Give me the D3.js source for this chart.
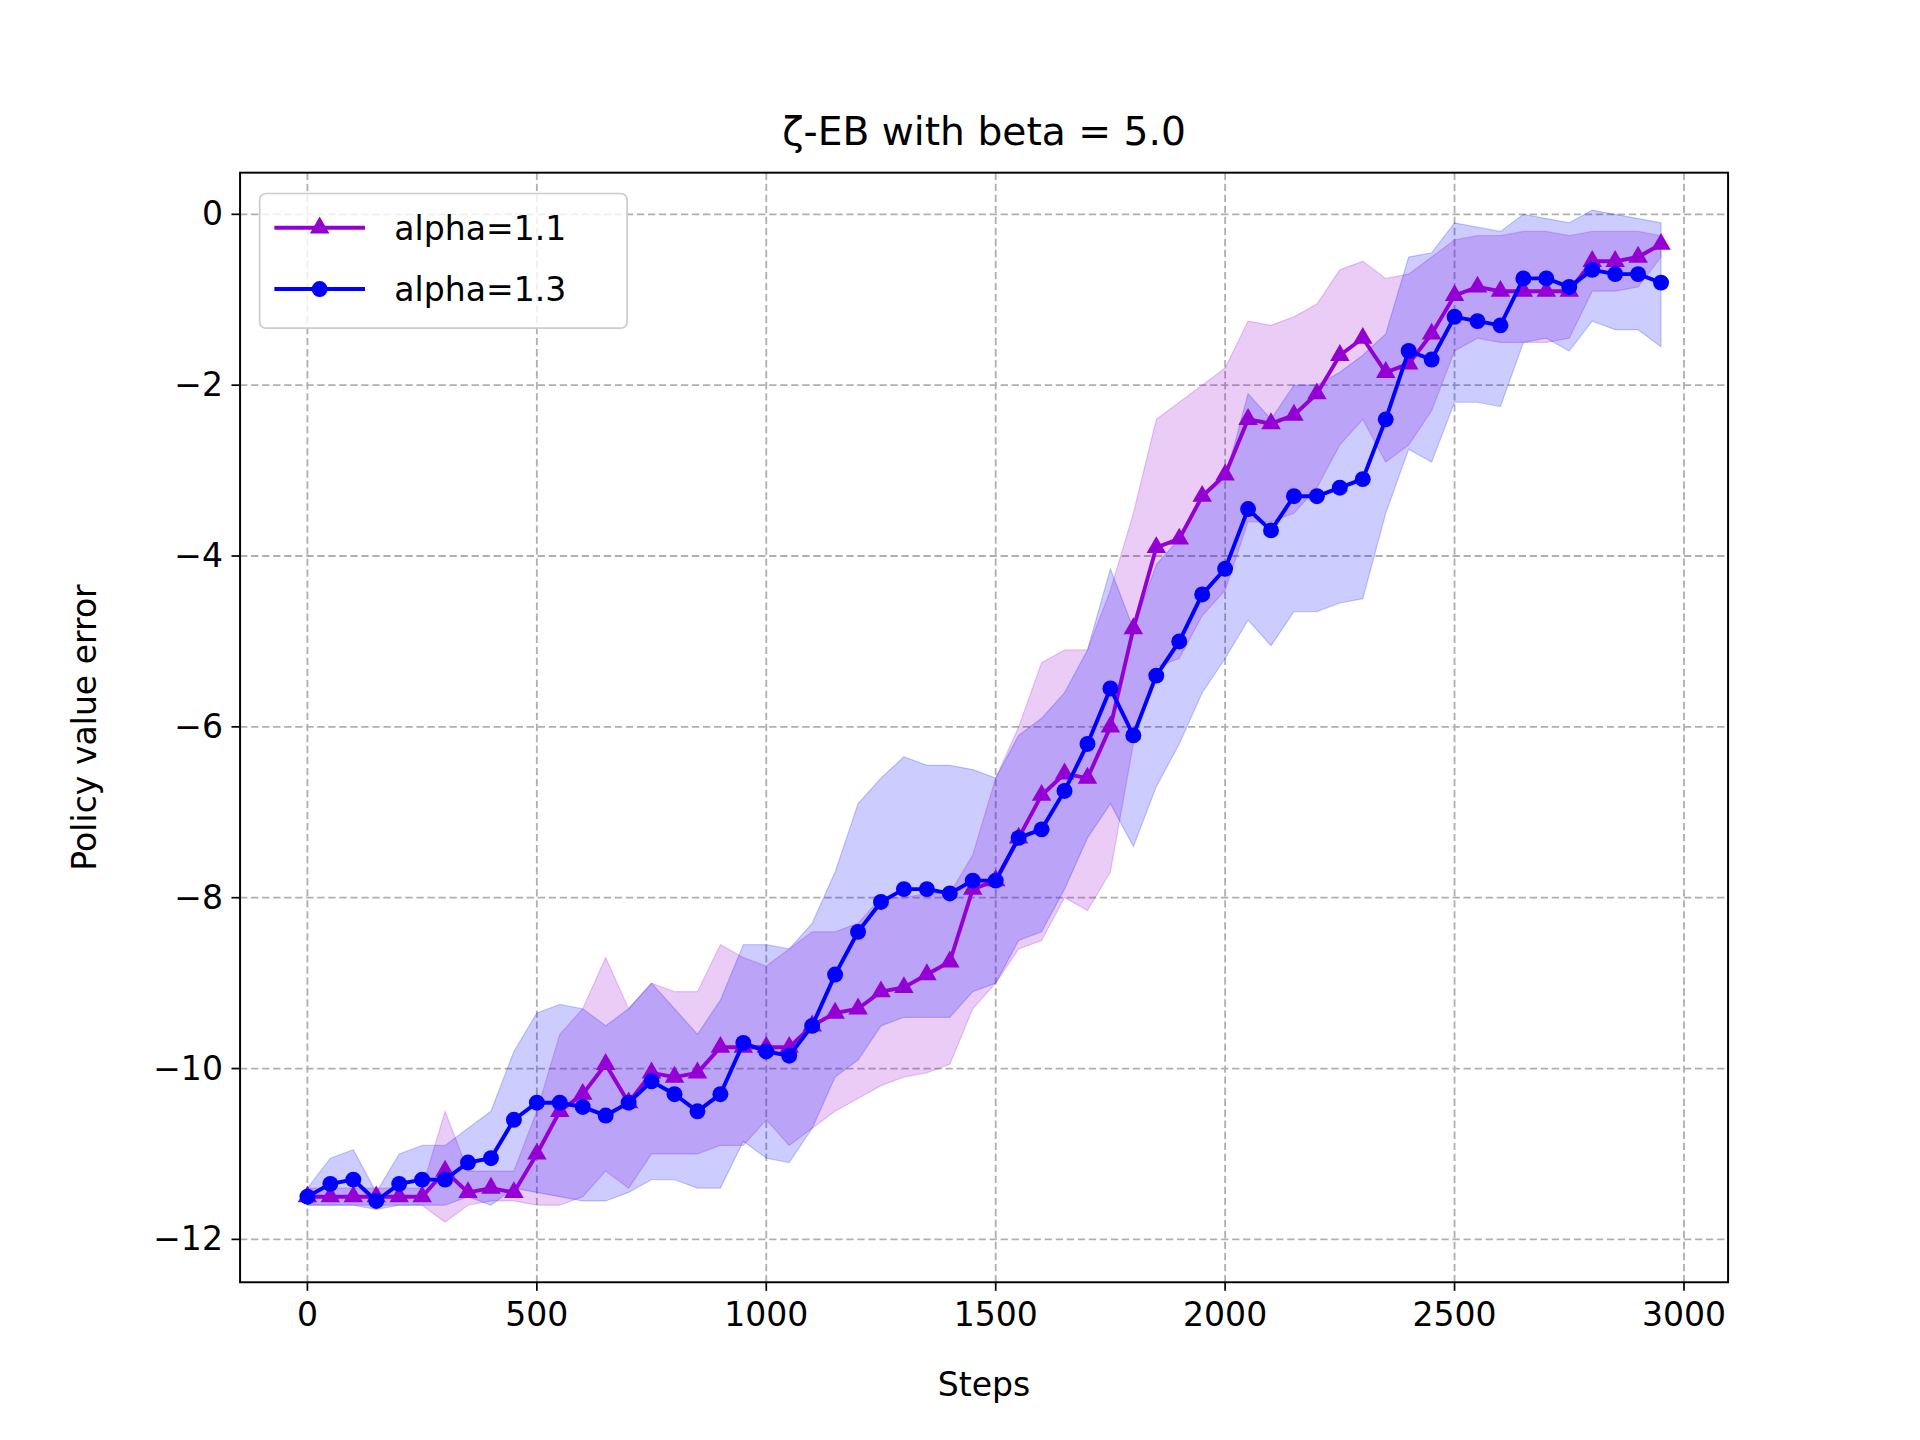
<!DOCTYPE html>
<html><head><meta charset="utf-8">
<script src="https://cdn.jsdelivr.net/npm/d3@7"></script>
<style>body{margin:0;background:#fff}text{font-family:"DejaVu Sans",sans-serif}</style>
</head><body>
<svg id="chart" width="1920" height="1440" viewBox="0 0 1567.7 1175.8"></svg>
<script>
var steps = d3.range(0, 3000, 50);
var a11 = [-11.5,-11.5,-11.5,-11.5,-11.5,-11.5,-11.2,-11.45,-11.4,-11.45,-11.0,-10.5,-10.3,-9.95,-10.4,-10.05,-10.1,-10.05,-9.75,-9.75,-9.75,-9.75,-9.5,-9.35,-9.3,-9.1,-9.05,-8.9,-8.75,-7.9,-7.8,-7.3,-6.8,-6.55,-6.6,-6.0,-4.85,-3.9,-3.8,-3.3,-3.05,-2.4,-2.45,-2.35,-2.1,-1.65,-1.45,-1.85,-1.75,-1.4,-0.95,-0.85,-0.9,-0.9,-0.9,-0.9,-0.55,-0.55,-0.5,-0.35];
var a11Hi = [-11.4,-11.4,-11.4,-11.4,-11.4,-11.4,-10.5,-11.2,-11.2,-11.2,-10.5,-9.6,-9.3,-8.7,-9.3,-9.0,-9.1,-9.1,-8.55,-8.7,-8.8,-8.6,-8.4,-8.4,-8.3,-8.0,-8.0,-7.95,-7.95,-7.5,-6.6,-6.0,-5.25,-5.1,-5.1,-4.4,-3.5,-2.4,-2.2,-2.0,-1.8,-1.25,-1.3,-1.2,-1.05,-0.65,-0.55,-0.75,-0.7,-0.5,-0.3,-0.25,-0.25,-0.2,-0.2,-0.25,-0.2,-0.2,-0.2,-0.25];
var a11Lo = [-11.6,-11.6,-11.6,-11.6,-11.6,-11.6,-11.8,-11.6,-11.55,-11.55,-11.6,-11.6,-11.5,-11.2,-11.4,-11.0,-11.0,-11.0,-10.9,-10.9,-10.6,-10.9,-10.7,-10.5,-10.35,-10.2,-10.1,-10.05,-9.95,-9.3,-9.0,-8.6,-8.5,-8.0,-8.15,-7.7,-6.2,-5.3,-5.2,-4.7,-4.4,-3.6,-3.6,-3.5,-3.2,-2.7,-2.4,-2.9,-2.7,-2.3,-1.6,-1.45,-1.5,-1.5,-1.5,-1.45,-0.9,-0.9,-0.85,-0.5];
var a13 = [-11.5,-11.35,-11.3,-11.55,-11.35,-11.3,-11.3,-11.1,-11.05,-10.6,-10.4,-10.4,-10.45,-10.55,-10.4,-10.15,-10.3,-10.5,-10.3,-9.7,-9.8,-9.85,-9.5,-8.9,-8.4,-8.05,-7.9,-7.9,-7.95,-7.8,-7.8,-7.3,-7.2,-6.75,-6.2,-5.55,-6.1,-5.4,-5.0,-4.45,-4.15,-3.45,-3.7,-3.3,-3.3,-3.2,-3.1,-2.4,-1.6,-1.7,-1.2,-1.25,-1.3,-0.75,-0.75,-0.85,-0.65,-0.7,-0.7,-0.8];
var a13Hi = [-11.4,-11.05,-10.95,-11.45,-11.0,-10.9,-10.9,-10.7,-10.5,-9.8,-9.35,-9.25,-9.3,-9.5,-9.3,-9.0,-9.3,-9.6,-9.2,-8.55,-8.55,-8.6,-8.3,-7.7,-6.9,-6.6,-6.35,-6.45,-6.45,-6.5,-6.6,-6.1,-5.9,-5.6,-5.1,-4.15,-4.85,-4.1,-3.8,-3.3,-3.1,-2.1,-2.4,-2.0,-2.0,-1.85,-1.65,-1.4,-0.5,-0.45,-0.1,-0.15,-0.2,0,-0.05,-0.1,0.05,0,-0.05,-0.1];
var a13Lo = [-11.6,-11.6,-11.6,-11.65,-11.6,-11.6,-11.6,-11.5,-11.6,-11.4,-11.45,-11.5,-11.55,-11.55,-11.45,-11.3,-11.3,-11.4,-11.4,-10.85,-11.05,-11.1,-10.7,-10.1,-9.9,-9.5,-9.4,-9.4,-9.4,-9.1,-9.0,-8.5,-8.4,-7.9,-7.3,-6.9,-7.4,-6.7,-6.2,-5.6,-5.2,-4.75,-5.05,-4.65,-4.65,-4.55,-4.5,-3.5,-2.75,-2.9,-2.2,-2.2,-2.25,-1.5,-1.45,-1.6,-1.25,-1.35,-1.35,-1.55];
var xTicks = [0,500,1000,1500,2000,2500,3000];
var yTicks = [0,-2,-4,-6,-8,-10,-12];

var svg = d3.select("#chart");
var L = 196, R = 1411, T = 141, B = 1047;
var x = d3.scaleLinear().domain([0, 3000]).range([251, 1375]);
var y = d3.scaleLinear().domain([-12, 0]).range([1012, 175]);

// grid
var g = svg.append("g");
xTicks.forEach(function (t) {
    g.append("line").attr("x1", x(t)).attr("x2", x(t)).attr("y1", T).attr("y2", B)
        .attr("stroke", "#b0b0b0").attr("stroke-width", 1.5).attr("stroke-dasharray", "6,3");
});
yTicks.forEach(function (t) {
    g.append("line").attr("x1", L).attr("x2", R).attr("y1", y(t)).attr("y2", y(t))
        .attr("stroke", "#b0b0b0").attr("stroke-width", 1.5).attr("stroke-dasharray", "6,3");
});

var series = [
    { name: "alpha=1.1", v: a11, lo: a11Lo, hi: a11Hi, color: "#9400d3", marker: "triangle" },
    { name: "alpha=1.3", v: a13, lo: a13Lo, hi: a13Hi, color: "#0000ff", marker: "circle" }
];
var area = d3.area().x(function (d) { return x(d.s); }).y0(function (d) { return y(d.lo); }).y1(function (d) { return y(d.hi); });
var line = d3.line().x(function (d) { return x(d.s); }).y(function (d) { return y(d.v); });

series.forEach(function (s) {
    var pts = steps.map(function (st, i) { return { s: st, v: s.v[i], lo: s.lo[i], hi: s.hi[i] }; });
    svg.append("path").attr("d", area(pts)).attr("fill", s.color).attr("fill-opacity", 0.2)
        .attr("stroke", s.color).attr("stroke-opacity", 0.2);
});
function marker(sel, s, cx, cy) {
    if (s.marker === "circle") {
        sel.append("circle").attr("cx", cx).attr("cy", cy).attr("r", 6.5).attr("fill", s.color);
    } else {
        sel.append("path").attr("d", d3.symbol().type(d3.symbolTriangle).size(110)())
            .attr("transform", "translate(" + cx + "," + cy + ")").attr("fill", s.color);
    }
}
series.forEach(function (s) {
    var pts = steps.map(function (st, i) { return { s: st, v: s.v[i] }; });
    svg.append("path").attr("d", line(pts)).attr("fill", "none").attr("stroke", s.color).attr("stroke-width", 3.2);
    var mg = svg.append("g");
    pts.forEach(function (p) { marker(mg, s, x(p.s), y(p.v)); });
});

// frame & axes
svg.append("rect").attr("x", L).attr("y", T).attr("width", R - L).attr("height", B - T)
    .attr("fill", "none").attr("stroke", "#000").attr("stroke-width", 1.6);
xTicks.forEach(function (t) {
    svg.append("line").attr("x1", x(t)).attr("x2", x(t)).attr("y1", B).attr("y2", B + 7).attr("stroke", "#000").attr("stroke-width", 1.4);
    svg.append("text").attr("x", x(t)).attr("y", B + 36).attr("text-anchor", "middle").attr("font-size", 27).text(t);
});
yTicks.forEach(function (t) {
    svg.append("line").attr("x1", L - 7).attr("x2", L).attr("y1", y(t)).attr("y2", y(t)).attr("stroke", "#000").attr("stroke-width", 1.4);
    svg.append("text").attr("x", L - 14).attr("y", y(t) + 9).attr("text-anchor", "end").attr("font-size", 27)
        .text(t < 0 ? "\u2212" + Math.abs(t) : t);
});
svg.append("text").attr("x", (L + R) / 2).attr("y", 1140).attr("text-anchor", "middle").attr("font-size", 27).text("Steps");
svg.append("text").attr("transform", "translate(78," + (T + B) / 2 + ") rotate(-90)").attr("text-anchor", "middle").attr("font-size", 27).text("Policy value error");
svg.append("text").attr("x", (L + R) / 2).attr("y", 118).attr("text-anchor", "middle").attr("font-size", 32).text("ζ-EB with beta = 5.0");

// legend
var lg = svg.append("g");
lg.append("rect").attr("x", 212).attr("y", 158).attr("width", 300).attr("height", 110).attr("rx", 5)
    .attr("fill", "#fff").attr("fill-opacity", 0.8).attr("stroke", "#ccc").attr("stroke-width", 1.4);
series.forEach(function (s, i) {
    var yy = 186 + i * 50;
    lg.append("line").attr("x1", 224).attr("x2", 298).attr("y1", yy).attr("y2", yy).attr("stroke", s.color).attr("stroke-width", 3.2);
    marker(lg, s, 261, yy);
    lg.append("text").attr("x", 322).attr("y", yy + 10).attr("font-size", 27).text(s.name);
});
</script>
</body></html>
